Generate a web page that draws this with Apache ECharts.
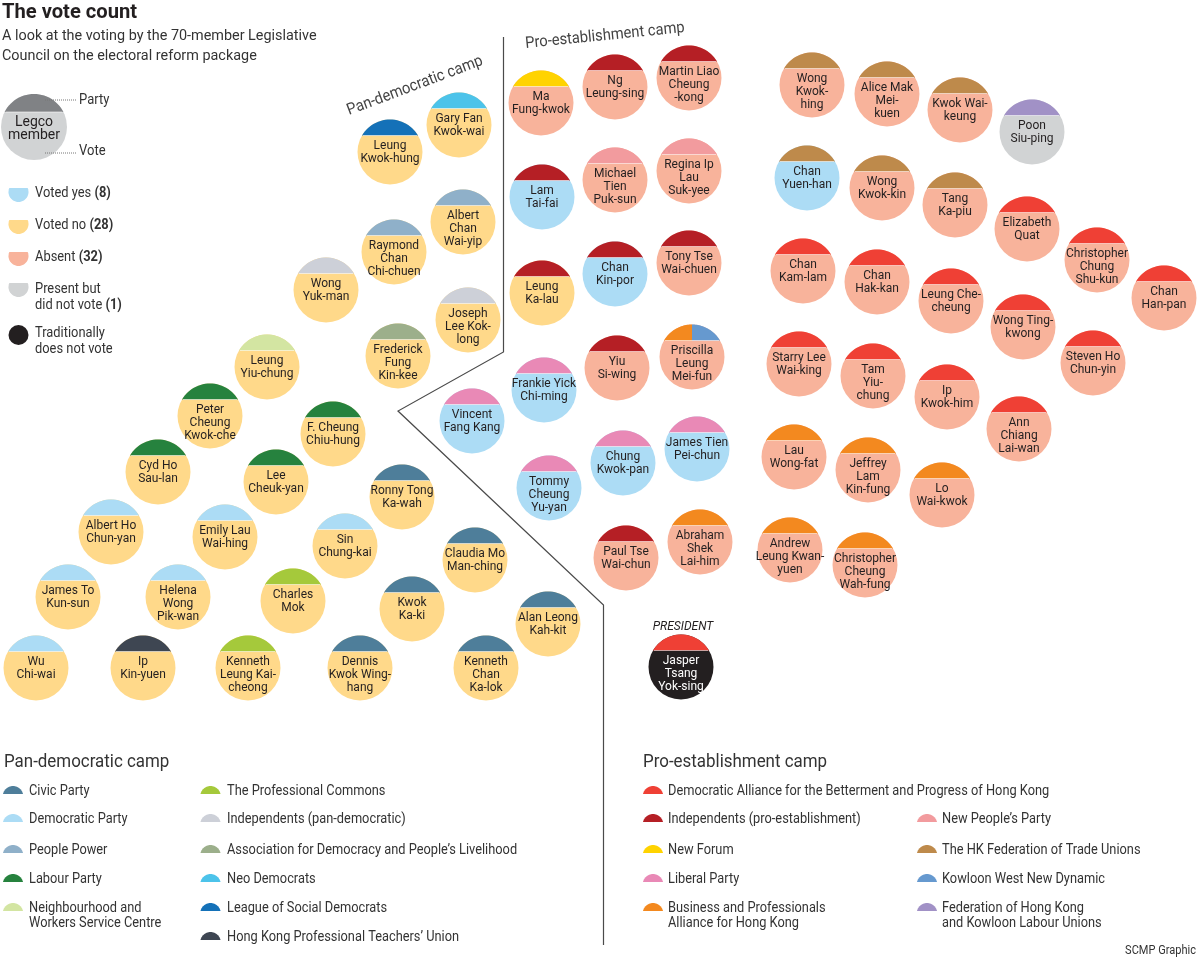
<!DOCTYPE html>
<html>
<head>
<meta charset="utf-8">
<script src="https://cdn.jsdelivr.net/npm/echarts@6/dist/echarts.min.js"></script>
<style>html,body{margin:0;padding:0;background:#fff}#chart{width:1200px;height:959px}</style>
</head>
<body>
<div id="chart"></div>
<script>
// ---------------- DATA ----------------
const memberNames = [
  'Gary Fan\nKwok-wai','Leung\nKwok-hung','Albert\nChan\nWai-yip','Raymond\nChan\nChi-chuen','Wong\nYuk-man',
  'Joseph\nLee Kok-\nlong','Frederick\nFung\nKin-kee','Leung\nYiu-chung','Peter\nCheung\nKwok-che','F. Cheung\nChiu-hung',
  'Cyd Ho\nSau-lan','Lee\nCheuk-yan','Ronny Tong\nKa-wah','Albert Ho\nChun-yan','Emily Lau\nWai-hing',
  'Sin\nChung-kai','Claudia Mo\nMan-ching','James To\nKun-sun','Helena\nWong\nPik-wan','Charles\nMok',
  'Kwok\nKa-ki','Alan Leong\nKah-kit','Wu\nChi-wai','Ip\nKin-yuen','Kenneth\nLeung Kai-\ncheong',
  'Dennis\nKwok Wing-\nhang','Kenneth\nChan\nKa-lok',
  'Ma\nFung-kwok','Ng\nLeung-sing','Martin Liao\nCheung\n-kong','Lam\nTai-fai','Michael\nTien\nPuk-sun',
  'Regina Ip\nLau\nSuk-yee','Leung\nKa-lau','Chan\nKin-por','Tony Tse\nWai-chuen','Yiu\nSi-wing',
  'Priscilla\nLeung\nMei-fun','Frankie Yick\nChi-ming','Vincent\nFang Kang','Chung\nKwok-pan','James Tien\nPei-chun',
  'Tommy\nCheung\nYu-yan','Paul Tse\nWai-chun','Abraham\nShek\nLai-him','Jasper\nTsang\nYok-sing',
  'Wong\nKwok-\nhing','Alice Mak\nMei-\nkuen','Kwok Wai-\nkeung','Poon\nSiu-ping','Chan\nYuen-han',
  'Wong\nKwok-kin','Tang\nKa-piu','Elizabeth\nQuat','Christopher\nChung\nShu-kun','Chan\nHan-pan',
  'Chan\nKam-lam','Chan\nHak-kan','Leung Che-\ncheung','Wong Ting-\nkwong','Starry Lee\nWai-king',
  'Tam\nYiu-\nchung','Ip\nKwok-him','Ann\nChiang\nLai-wan','Steven Ho\nChun-yin','Lau\nWong-fat',
  'Jeffrey\nLam\nKin-fung','Lo\nWai-kwok','Andrew\nLeung Kwan-\nyuen','Christopher\nCheung\nWah-fung'
];
const seatX = [
  459,390,463,394,326, 468,398,267,210,333, 158,276,402,111,225, 345,475,68,178,293, 412,548,36,143,248, 360,486,
  541,615,689,542,615, 689,542,615,689,617, 692,544,472,623,697, 549,626,700,681,
  812,887,960,1032,807, 882,955,1027,1097,1164, 803,877,951,1023,799, 873,947,1019,1093,794, 868,942,790,865
];
const seatY = [
  125,152,222,252,290, 320,356,367,416,434, 472,482,497,532,537, 546,560,597,597,601, 609,624,668,668,668, 668,668,
  103,87,78,197,180, 171,293,274,263,368, 357,390,421,463,449, 488,558,542,667,
  85,94,110,132,178, 188,205,229,260,298, 271,282,301,327,364, 376,397,429,363,457, 470,495,550,565
];
const memberParty = [
  'ND','LSD','PP','PP','IPD', 'IPD','ADPL','NWSC','LP','LP', 'LP','LP','CP','DP','DP', 'DP','CP','DP','DP','PC', 'CP','CP','DP','PTU','PC', 'CP','CP',
  'NF','IPE','IPE','IPE','NPP', 'NPP','IPE','IPE','IPE','IPE', 'BPA|KWND','LIB','LIB','LIB','LIB', 'LIB','IPE','BPA','DAB',
  'FTU','FTU','FTU','FLU','FTU', 'FTU','FTU','DAB','DAB','DAB', 'DAB','DAB','DAB','DAB','DAB', 'DAB','DAB','DAB','DAB','BPA', 'BPA','BPA','BPA','BPA'
];
const memberVote = [
  'no','no','no','no','no', 'no','no','no','no','no', 'no','no','no','no','no', 'no','no','no','no','no', 'no','no','no','no','no', 'no','no',
  'absent','absent','absent','yes','absent', 'absent','no','yes','absent','absent', 'absent','yes','yes','yes','yes', 'yes','absent','absent','none',
  'absent','absent','absent','present','yes', 'absent','absent','absent','absent','absent', 'absent','absent','absent','absent','absent', 'absent','absent','absent','absent','absent', 'absent','absent','absent','absent'
];

const voteKeys = ['yes','no','absent','present','none'];
const voteLabels = ['Voted yes','Voted no','Absent','Present but\ndid not vote','Traditionally\ndoes not vote'];

const panDemCol1 = ['CP','DP','PP','LP','NWSC'];
const panDemCol2 = ['PC','IPD','ADPL','ND','LSD','PTU'];
const proEstCol1 = ['DAB','IPE','NF','LIB','BPA'];
const proEstCol2 = ['NPP','FTU','KWND','FLU'];
const partyLabels = {
  CP:'Civic Party', DP:'Democratic Party', PP:'People Power', LP:'Labour Party',
  NWSC:'Neighbourhood and\nWorkers Service Centre', PC:'The Professional Commons',
  IPD:'Independents (pan-democratic)', ADPL:'Association for Democracy and People\u2019s Livelihood',
  ND:'Neo Democrats', LSD:'League of Social Democrats', PTU:'Hong Kong Professional Teachers\u2019 Union',
  DAB:'Democratic Alliance for the Betterment and Progress of Hong Kong', IPE:'Independents (pro-establishment)',
  NF:'New Forum', LIB:'Liberal Party', BPA:'Business and Professionals\nAlliance for Hong Kong',
  NPP:'New People\u2019s Party', FTU:'The HK Federation of Trade Unions', KWND:'Kowloon West New Dynamic',
  FLU:'Federation of Hong Kong\nand Kowloon Labour Unions'
};

// ---------------- STYLE ----------------
const partyColor = {
  CP:'#4e7e9a', DP:'#acdcf5', PP:'#8fb0c9', LP:'#26823e', NWSC:'#d3e5a2', PC:'#a5c93b',
  IPD:'#cdd0d8', ADPL:'#9caf8b', ND:'#4cc3ea', LSD:'#1471b8', PTU:'#3e4652',
  DAB:'#ef4035', IPE:'#b51f25', NF:'#ffd300', LIB:'#e989b6', BPA:'#f3891f',
  NPP:'#f29b9e', FTU:'#be8a4b', KWND:'#6699cf', FLU:'#a191c6'
};
const voteColor = { yes:'#acdcf5', no:'#ffd98a', absent:'#f8b39b', present:'#d1d3d4', none:'#231f20' };
const FONT = 'Roboto, "Open Sans", sans-serif';
const INK = '#231f20';
const R = 32.5, CAP = 16.5;

function arcPoints(cx, cy, r, a0, a1) {
  const pts = [];
  const n = 28;
  for (let k = 0; k <= n; k++) {
    const t = a0 + (a1 - a0) * k / n;
    pts.push([cx + r * Math.cos(t), cy - r * Math.sin(t)]);
  }
  return pts;
}
function capPolys(cx, cy, r, d, parties) {
  const t0 = Math.asin(d / r);
  if (parties.length === 1) {
    return [{ pts: arcPoints(cx, cy, r, t0, Math.PI - t0), p: parties[0] }];
  }
  const left = arcPoints(cx, cy, r, Math.PI / 2, Math.PI - t0);
  left.push([cx, cy - d]);
  const right = arcPoints(cx, cy, r, t0, Math.PI / 2);
  right.push([cx, cy - d]);
  return [{ pts: left, p: parties[0] }, { pts: right, p: parties[1] }];
}

function renderMember(params, api) {
  const i = params.dataIndex;
  const c = api.coord([api.value(0), api.value(1)]);
  const cx = c[0], cy = c[1];
  const vote = memberVote[i];
  const children = [];
  children.push({ type: 'circle', shape: { cx, cy, r: R }, style: { fill: voteColor[vote] } });
  capPolys(cx, cy, R, CAP, memberParty[i].split('|')).forEach(cp => {
    children.push({ type: 'polygon', shape: { points: cp.pts }, style: { fill: partyColor[cp.p] } });
  });
  const hw = Math.sqrt(R * R - CAP * CAP);
  children.push({ type: 'line', shape: { x1: cx - hw + 1, y1: cy - CAP, x2: cx + hw - 1, y2: cy - CAP },
    style: { stroke: 'rgba(255,255,255,0.55)', lineWidth: 1 } });
  children.push({ type: 'text', x: cx, y: cy - 12.5, style: {
    text: memberNames[i], fontFamily: FONT, fontSize: 12, lineHeight: 13,
    fill: vote === 'none' ? '#ffffff' : INK, align: 'center', verticalAlign: 'top'
  } });
  return { type: 'group', children };
}

// ---------------- GRAPHICS (legends, titles) ----------------
function txt(x, y, text, size, o) {
  o = o || {};
  return {
    type: 'text', x, y, rotation: o.rot || 0, scaleX: o.sx || 1, z: 10,
    style: {
      text, fontFamily: FONT, fontSize: size, fontWeight: o.fw || 'normal', fontStyle: o.fs || 'normal',
      fill: o.fill || '#333', align: o.align || 'left', verticalAlign: o.va || 'middle',
      lineHeight: o.lh || Math.round(size * 1.1), rich: o.rich
    }
  };
}
function dome(cx, baseY, r, h, color) {
  // circular segment with flat bottom (height h, half-width r)
  const rr = (r * r + h * h) / (2 * h);
  const ccy = baseY + (rr - h);
  const t0 = Math.asin((rr - h) / rr);
  return { type: 'polygon', z: 10, shape: { points: arcPoints(cx, ccy, rr, t0, Math.PI - t0) }, style: { fill: color } };
}
function bowl(cx, topY, r, h, color) {
  // circular segment with flat top (height h), chord above the centre
  const ccy = topY + h - r;
  const a = Math.asin((ccy - topY) / r);
  return { type: 'polygon', z: 10, shape: { points: arcPoints(cx, ccy, r, Math.PI - a, 2 * Math.PI + a) }, style: { fill: color } };
}

const graphics = [];
// title
graphics.push(txt(2, 13, 'The vote count', 21, { fw: 'bold', fill: INK, sx: 0.96 }));
graphics.push(txt(2, 46, 'A look at the voting by the 70-member Legislative\nCouncil on the electoral reform package', 15, { lh: 20, fill: '#333', sx: 0.96 }));

// key circle
(function () {
  const cx = 34, cy = 127, r = 33, d = 15;
  graphics.push({ type: 'circle', z: 10, shape: { cx, cy, r }, style: { fill: '#d1d3d4' } });
  graphics.push({ type: 'polygon', z: 10, shape: { points: arcPoints(cx, cy, r, Math.asin(d / r), Math.PI - Math.asin(d / r)) }, style: { fill: '#808285' } });
  const hw = Math.sqrt(r * r - d * d);
  graphics.push({ type: 'line', z: 11, shape: { x1: cx - hw + 1, y1: cy - d, x2: cx + hw - 1, y2: cy - d }, style: { stroke: 'rgba(255,255,255,0.6)', lineWidth: 1 } });
  graphics.push(txt(cx, 128.5, 'Legco\nmember', 14, { align: 'center', lh: 13, fill: INK }));
  graphics.push({ type: 'line', z: 11, shape: { x1: 45, y1: 100, x2: 77, y2: 100 }, style: { stroke: '#777', lineWidth: 1, lineDash: [1, 1] } });
  graphics.push({ type: 'line', z: 11, shape: { x1: 45, y1: 153, x2: 77, y2: 153 }, style: { stroke: '#777', lineWidth: 1, lineDash: [1, 1] } });
  graphics.push(txt(79, 100, 'Party', 14, { fill: '#333', sx: 0.93 }));
  graphics.push(txt(79, 151, 'Vote', 14, { fill: '#333', sx: 0.93 }));
})();

// vote key
const voteCounts = voteKeys.map(k => memberVote.filter(v => v === k).length);
const voteRowY = [193, 225, 257, 297, 341];
voteKeys.forEach((k, j) => {
  const y = voteRowY[j];
  if (k === 'none') {
    graphics.push({ type: 'circle', z: 10, shape: { cx: 18.5, cy: 335, r: 10 }, style: { fill: voteColor[k] } });
  } else {
    const lines = voteLabels[j].split('\n');
    const top = lines.length > 1 ? y - 14 : y - 5;
    graphics.push(bowl(18.5, top, 10, 14, voteColor[k]));
  }
  const label = k === 'none' ? voteLabels[j] : voteLabels[j] + ' {b|(' + voteCounts[j] + ')}';
  graphics.push(txt(35, y, label, 14, {
    lh: 16, fill: '#333', sx: 0.92,
    rich: { b: { fontFamily: FONT, fontSize: 14, fontWeight: 'bold', fill: '#333', lineHeight: 16 } }
  }));
});

// camp labels
graphics.push(txt(415, 86, 'Pan-democratic camp', 16, { rot: 0.36, align: 'center', fill: '#444', sx: 0.92 }));
graphics.push(txt(605, 36, 'Pro-establishment camp', 16, { rot: 0.1, align: 'center', fill: '#444', sx: 0.92 }));
graphics.push(txt(683, 627, 'PRESIDENT', 12, { align: 'center', fs: 'italic', fill: INK }));

// separator line
graphics.push({ type: 'polyline', z: 5, shape: { points: [[503.5, 37], [503.5, 352], [398, 411], [603.5, 605], [603.5, 945]] },
  style: { stroke: '#4a4a4a', lineWidth: 1.2, fill: null } });

// bottom legends
const rowY = [791, 819, 850, 879, 908, 937];
function legendColumn(keys, iconX, textX, startRow) {
  keys.forEach((k, j) => {
    const y = rowY[j + startRow];
    graphics.push(dome(iconX, y + 3, 10, 8, partyColor[k]));
    graphics.push(txt(textX, partyLabels[k].indexOf('\n') >= 0 ? y + 7.5 : y, partyLabels[k], 14, { lh: 15, fill: '#333', sx: 0.915 }));
  });
}
graphics.push(txt(4, 762, 'Pan-democratic camp', 18, { fill: '#333', sx: 0.94 }));
legendColumn(panDemCol1, 13, 29, 0);
legendColumn(panDemCol2, 210.5, 227, 0);
graphics.push(txt(643, 762, 'Pro-establishment camp', 18, { fill: '#333', sx: 0.94 }));
legendColumn(proEstCol1, 653, 668, 0);
legendColumn(proEstCol2, 927, 942, 1);
graphics.push(txt(1196, 951, 'SCMP Graphic', 12, { align: 'right', fill: '#333', sx: 0.92 }));

// ---------------- CHART ----------------
const chart = echarts.init(document.getElementById('chart'), null, { renderer: 'canvas' });
chart.setOption({
  animation: false,
  backgroundColor: '#ffffff',
  grid: { left: 0, right: 0, top: 0, bottom: 0 },
  xAxis: { type: 'value', min: 0, max: 1200, show: false },
  yAxis: { type: 'value', min: 0, max: 959, inverse: true, show: false },
  graphic: graphics,
  series: [{
    type: 'custom',
    coordinateSystem: 'cartesian2d',
    renderItem: renderMember,
    data: seatX.map((x, i) => [x, seatY[i]]),
    clip: false,
    z: 3
  }]
});
</script>
</body>
</html>
